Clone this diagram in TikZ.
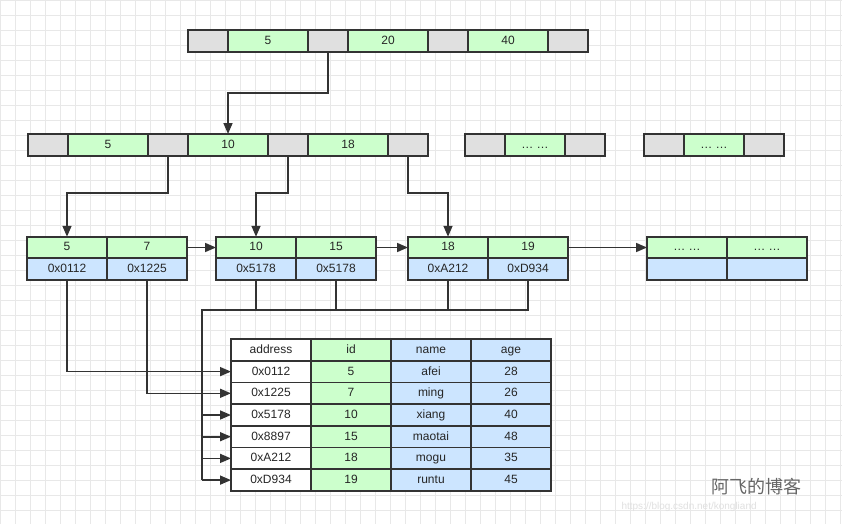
\documentclass[tikz,border=0pt]{standalone}
\usepackage{fontspec}
\setmainfont{Liberation Sans}
\newfontfamily\cjk{Noto Sans CJK SC}
\usetikzlibrary{arrows.meta}
\definecolor{cg}{HTML}{CCFFCC}
\definecolor{cb}{HTML}{CCE5FF}
\definecolor{cgr}{HTML}{E0E0E0}
\definecolor{ln}{HTML}{333333}
\begin{document}
\begin{tikzpicture}[x=1pt,y=-1pt,
  cell/.style={draw=ln,line width=1.8pt,minimum height=#1,inner sep=0pt,outer sep=0pt,text=black!85,font=\fontsize{12}{13}\selectfont,text height=1.6ex,text depth=0.3ex},
  g/.style={cell=22pt,fill=cg,minimum width=80pt},
  k/.style={cell=22pt,fill=cgr,minimum width=40pt},
  tb/.style={cell=21.7pt,minimum width=80pt},
  lk/.style={draw=ln,line width=1.6pt},
  ar/.style={lk,-{Triangle[length=11pt,width=9pt]}}]
\useasboundingbox (0,0) rectangle (842,524);
\fill[white] (0,0) rectangle (842,524);
\foreach \x in {0,15,...,840} \draw[black!9,line width=0.5pt] (\x,0) -- (\x,524);
\foreach \y in {0,15,...,520} \draw[black!9,line width=0.5pt] (0,\y) -- (842,\y);
% root
\node[k] (r0) at (208,41) {};
\node[g] (r1) at (268,41) {5};
\node[k] (r2) at (328,41) {};
\node[g] (r3) at (388,41) {20};
\node[k] (r4) at (448,41) {};
\node[g] (r5) at (508,41) {40};
\node[k] (r6) at (568,41) {};
% level 2
\node[k] (a0) at (48,145) {};
\node[g] (a1) at (108,145) {5};
\node[k] (a2) at (168,145) {};
\node[g] (a3) at (228,145) {10};
\node[k] (a4) at (288,145) {};
\node[g] (a5) at (348,145) {18};
\node[k] (a6) at (408,145) {};
\node[k] (b0) at (485,145) {};
\node[g,minimum width=60pt] (b1) at (535,145) {… …};
\node[k] (b2) at (585,145) {};
\node[k] (c0) at (664,145) {};
\node[g,minimum width=60pt] (c1) at (714,145) {… …};
\node[k] (c2) at (764,145) {};
% leaves
\foreach \n/\x/\ka/\kb/\pa/\pb in {l1/67/5/7/0x0112/0x1225, l2/256/10/15/0x5178/0x5178, l3/448/18/19/0xA212/0xD934, l4/687/… …/… …/{}/{}}{
  \node[g,minimum height=21.5pt] (\n a) at (\x,247.5) {\ka};
  \node[g,minimum height=21.5pt,anchor=west] (\n b) at (\n a.east) {\kb};
  \node[g,fill=cb,minimum height=21.5pt,anchor=north] (\n c) at (\n a.south) {\pa};
  \node[g,fill=cb,minimum height=21.5pt,anchor=north] (\n d) at (\n b.south) {\pb};
}
% tree arrows
\draw[ar] (r2.south) |- (228,93) -- (a3.north);
\draw[ar] (a2.south) |- (67,193) -- (l1a.north);
\draw[ar] (a4.south) |- (256,193) -- (l2a.north);
\draw[ar] (a6.south) |- (448,193) -- (l3a.north);
\draw[ar] (l1b.east) -- (l2a.west);
\draw[ar] (l2b.east) -- (l3a.west);
\draw[ar] (l3b.east) -- (l4a.west);
% table
\foreach \r/\A/\B/\C/\D [count=\i from 0] in {h/address/id/name/age, t1/0x0112/5/afei/28, t2/0x1225/7/ming/26, t3/0x5178/10/xiang/40, t4/0x8897/15/maotai/48, t5/0xA212/18/mogu/35, t6/0xD934/19/runtu/45}{
  \node[tb,fill=white] (\r a) at (271,349.9+21.7*\i) {\A};
  \node[tb,fill=cg] (\r b) at (351,349.9+21.7*\i) {\B};
  \node[tb,fill=cb] (\r c) at (431,349.9+21.7*\i) {\C};
  \node[tb,fill=cb] (\r d) at (511,349.9+21.7*\i) {\D};
}
% pointers
\coordinate (j) at (202,310);
\draw[ar] (l1c.south) |- (t1a.west);
\draw[ar] (l1d.south) |- (t2a.west);
\draw[lk] (l2c.south) -- (l2c.south |- j);
\draw[lk] (l2d.south) -- (l2d.south |- j);
\draw[lk] (l3c.south) -- (l3c.south |- j);
\draw[lk] (l3d.south) |- (j) -- (j |- t6a.west);
\foreach \r in {t3,t4,t5,t6}{\draw[ar] (j |- \r a.west) -- (\r a.west);}
% watermark
\node[text=black!60,font=\cjk\fontsize{18}{19}\selectfont,anchor=west] (wm) at (708,487) {阿飞的博客};
\node[text=black!12,font=\fontsize{10}{11}\selectfont,anchor=west] (wu) at (618,507) {https://blog.csdn.net/kongliand};
\end{tikzpicture}
\end{document}
